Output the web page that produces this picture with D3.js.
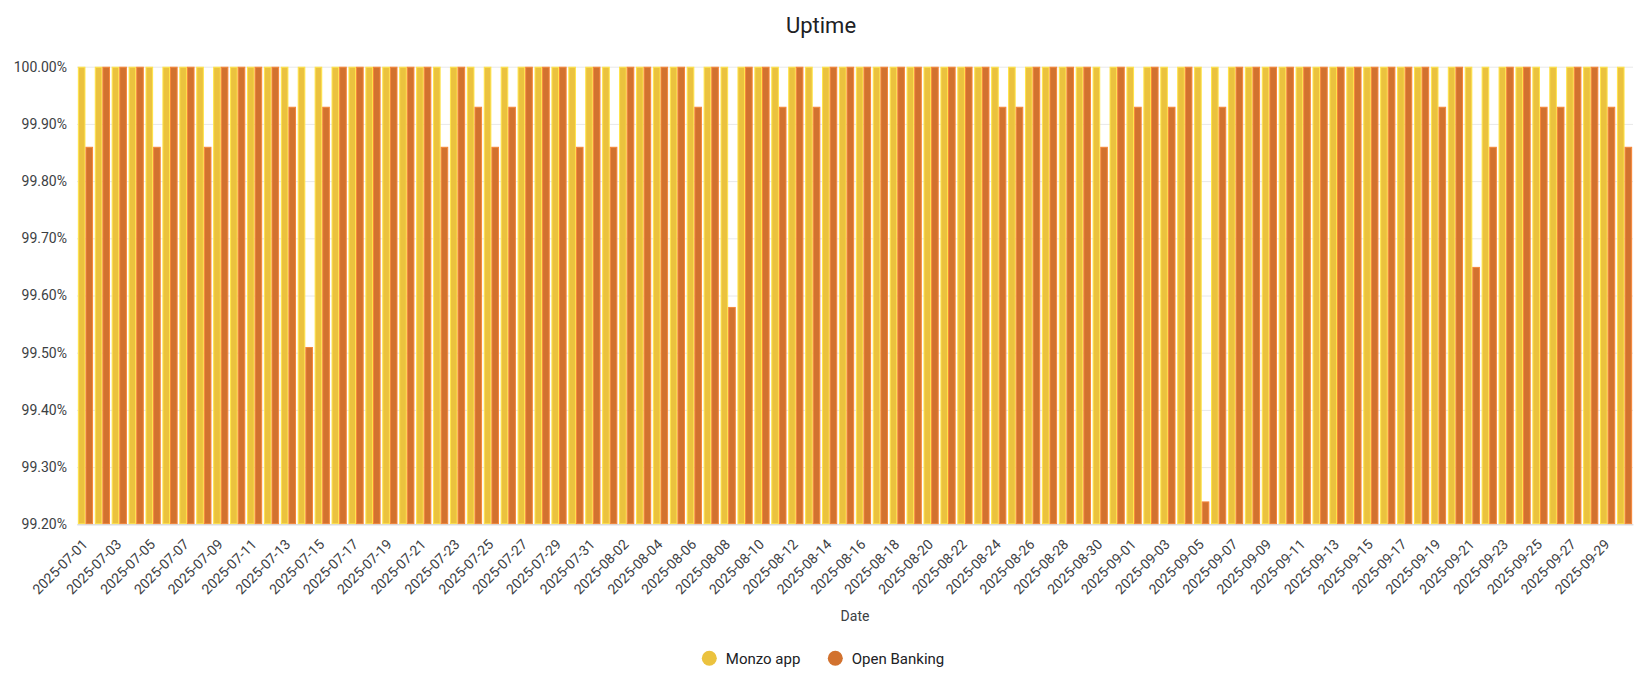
<!DOCTYPE html>
<html>
<head>
<meta charset="utf-8">
<script src="https://cdn.jsdelivr.net/npm/d3@7"></script>
<style>
    body { margin: 0; background: #fff; }
    text { font-family: Roboto, "Noto Sans", sans-serif; fill: #3c4043; }
</style>
</head>
<body>
<div id="chart"></div>
<script>
const dim = {
    width: 1642,
    height: 692
}

const margin = { top: 66.7, right: 9, bottom: 167.7, left: 77 }

// data
const dates = [
    '2025-07-01', '2025-07-02', '2025-07-03', '2025-07-04', '2025-07-05', '2025-07-06', '2025-07-07', '2025-07-08',
    '2025-07-09', '2025-07-10', '2025-07-11', '2025-07-12', '2025-07-13', '2025-07-14', '2025-07-15', '2025-07-16',
    '2025-07-17', '2025-07-18', '2025-07-19', '2025-07-20', '2025-07-21', '2025-07-22', '2025-07-23', '2025-07-24',
    '2025-07-25', '2025-07-26', '2025-07-27', '2025-07-28', '2025-07-29', '2025-07-30', '2025-07-31',
    '2025-08-01', '2025-08-02', '2025-08-03', '2025-08-04', '2025-08-05', '2025-08-06', '2025-08-07', '2025-08-08',
    '2025-08-09', '2025-08-10', '2025-08-11', '2025-08-12', '2025-08-13', '2025-08-14', '2025-08-15', '2025-08-16',
    '2025-08-17', '2025-08-18', '2025-08-19', '2025-08-20', '2025-08-21', '2025-08-22', '2025-08-23', '2025-08-24',
    '2025-08-25', '2025-08-26', '2025-08-27', '2025-08-28', '2025-08-29', '2025-08-30', '2025-08-31',
    '2025-09-01', '2025-09-02', '2025-09-03', '2025-09-04', '2025-09-05', '2025-09-06', '2025-09-07', '2025-09-08',
    '2025-09-09', '2025-09-10', '2025-09-11', '2025-09-12', '2025-09-13', '2025-09-14', '2025-09-15', '2025-09-16',
    '2025-09-17', '2025-09-18', '2025-09-19', '2025-09-20', '2025-09-21', '2025-09-22', '2025-09-23', '2025-09-24',
    '2025-09-25', '2025-09-26', '2025-09-27', '2025-09-28', '2025-09-29', '2025-09-30'
]

const monzoApp = [
    100, 100, 100, 100, 100, 100, 100, 100, 100, 100, 100, 100, 100, 100, 100, 100,
    100, 100, 100, 100, 100, 100, 100, 100, 100, 100, 100, 100, 100, 100, 100,
    100, 100, 100, 100, 100, 100, 100, 100, 100, 100, 100, 100, 100, 100, 100, 100,
    100, 100, 100, 100, 100, 100, 100, 100, 100, 100, 100, 100, 100, 100, 100,
    100, 100, 100, 100, 100, 100, 100, 100, 100, 100, 100, 100, 100, 100, 100, 100,
    100, 100, 100, 100, 100, 100, 100, 100, 100, 100, 100, 100, 100, 100
]

const openBanking = [
    99.86, 100, 100, 100, 99.86, 100, 100, 99.86, 100, 100, 100, 100, 99.93, 99.51, 99.93, 100,
    100, 100, 100, 100, 100, 99.86, 100, 99.93, 99.86, 99.93, 100, 100, 100, 99.86, 100,
    99.86, 100, 100, 100, 100, 99.93, 100, 99.58, 100, 100, 99.93, 100, 99.93, 100, 100, 100,
    100, 100, 100, 100, 100, 100, 100, 99.93, 99.93, 100, 100, 100, 100, 99.86, 100,
    99.93, 100, 99.93, 100, 99.24, 99.93, 100, 100, 100, 100, 100, 100, 100, 100, 100, 100,
    100, 100, 99.93, 100, 99.65, 99.86, 100, 100, 99.93, 99.93, 100, 100, 99.93, 99.86
]

const seriesNames = ['Monzo app', 'Open Banking']
const seriesColors = ['#ebc23e', '#d2722f']
const yTicks = [99.2, 99.3, 99.4, 99.5, 99.6, 99.7, 99.8, 99.9, 100]

const rows = dates.map((d, i) => ({
    date: d,
    values: [
        { key: seriesNames[0], value: monzoApp[i] },
        { key: seriesNames[1], value: openBanking[i] }
    ]
}))

const svg = d3.select('#chart')
    .append('svg')
        .attr('width', dim.width)
        .attr('height', dim.height)

const plotW = dim.width - margin.left - margin.right
const plotH = dim.height - margin.top - margin.bottom

// scales
const xScale = d3.scaleBand()
    .domain(dates)
    .range([margin.left, margin.left + plotW])
    .paddingInner(0.1)
    .paddingOuter(0.05)

const xSub = d3.scaleBand()
    .domain(seriesNames)
    .range([0, xScale.bandwidth()])

const yScale = d3.scaleLinear()
    .domain([99.2, 100])
    .range([margin.top + plotH, margin.top])

const color = d3.scaleOrdinal()
    .domain(seriesNames)
    .range(seriesColors)

// title
svg.append('text')
    .attr('x', dim.width / 2)
    .attr('y', 33)
    .attr('text-anchor', 'middle')
    .style('font-size', '22px')
    .style('fill', '#202124')
    .text('Uptime')

// gridlines + y labels
const yAxis = svg.append('g')
    .attr('transform', `translate(${margin.left},0)`)
    .call(d3.axisLeft(yScale)
        .tickValues(yTicks)
        .tickSize(-plotW)
        .tickPadding(10)
        .tickFormat(d => d3.format('.2f')(d) + '%'))

yAxis.select('.domain').remove()
yAxis.selectAll('.tick line')
    .attr('stroke', '#e8e8e8')
yAxis.selectAll('.tick text')
    .style('font-size', '14px')
    .style('fill', '#3c4043')

// bars
svg.append('g')
    .selectAll('g')
    .data(rows)
    .join('g')
        .attr('transform', d => `translate(${xScale(d.date)},0)`)
    .selectAll('rect')
    .data(d => d.values)
    .join('rect')
        .attr('x', d => xSub(d.key) + 0.5)
        .attr('y', d => yScale(d.value) + 0.5)
        .attr('width', xSub.bandwidth() - 1)
        .attr('height', d => Math.max(0, yScale(99.2) - yScale(d.value) - 1))
        .attr('fill', d => color(d.key))
        .attr('stroke', d => d3.color(color(d.key)).brighter(0.45))
        .attr('stroke-width', 1)

// x axis
const xAxis = svg.append('g')
    .attr('transform', `translate(0,${margin.top + plotH})`)
    .call(d3.axisBottom(xScale)
        .tickValues(dates.filter((d, i) => i % 2 === 0))
        .tickSize(0))

xAxis.select('.domain')
    .attr('stroke', '#d3d6dc')
xAxis.selectAll('.tick text')
    .attr('text-anchor', 'end')
    .attr('dy', null)
    .attr('y', null)
    .attr('transform', 'translate(3,21) rotate(-45)')
    .style('font-size', '14px')
    .style('fill', '#3c4043')

svg.append('text')
    .attr('x', margin.left + plotW / 2)
    .attr('y', 621)
    .attr('text-anchor', 'middle')
    .style('font-size', '14px')
    .text('Date')

// legend
const legendX = [709.3, 835.3]
const legend = svg.append('g')
    .selectAll('g')
    .data(seriesNames)
    .join('g')
        .attr('transform', (d, i) => `translate(${legendX[i]},658.3)`)

legend.append('circle')
    .attr('r', 7.5)
    .attr('fill', d => color(d))

legend.append('text')
    .attr('x', 16.5)
    .attr('dy', '0.35em')
    .style('font-size', '15px')
    .style('fill', '#202124')
    .text(d => d)
</script>
</body>
</html>
